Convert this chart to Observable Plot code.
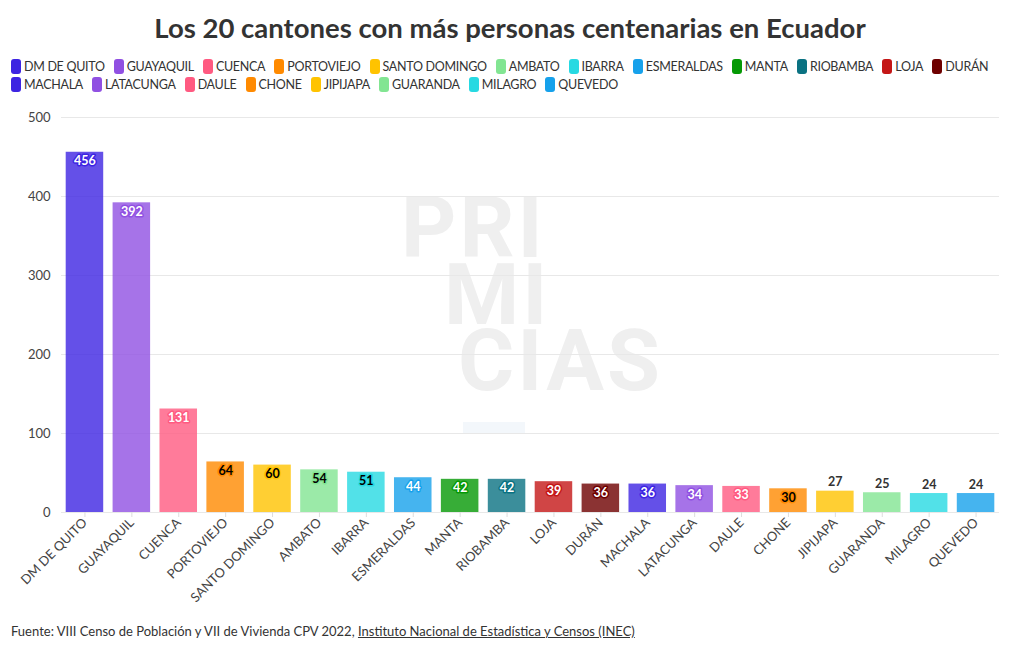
<!DOCTYPE html>
<html>
<head>
<meta charset="utf-8">
<script src="https://cdn.jsdelivr.net/npm/d3@7"></script>
<script src="https://cdn.jsdelivr.net/npm/@observablehq/plot@0.6"></script>
<style>
  html, body { margin: 0; padding: 0; background: #fff; }
  body { width: 1020px; height: 650px; position: relative; overflow: hidden; font-family: Lato, "Open Sans", sans-serif; color: #333; }
  #title { position: absolute; top: 11px; left: 0; width: 1020px; text-align: center; font-size: 27.5px; font-weight: 700; color: #333; }
  #legend { position: absolute; top: 59px; left: 11px; width: 990px; display: flex; flex-wrap: wrap; row-gap: 3px; column-gap: 9px; font-size: 12.5px; letter-spacing: -0.3px; color: #333; }
  .item { display: flex; align-items: center; height: 15px; }
  .sw { width: 10px; height: 15px; border-radius: 3px; margin-right: 3px; }
  #chart { position: absolute; top: 100px; left: 0; }
  #wm { position: absolute; left: 401px; top: 195px; font-family: Roboto, sans-serif; font-weight: 700; font-size: 86px; color: #efefef; line-height: 66.5px; letter-spacing: 3px; white-space: nowrap; }
  #wm .sp { display: inline-block; height: 1px; }
  #wmbar { position: absolute; left: 463px; top: 422px; width: 62px; height: 11px; background: #f3f7fb; }
  #footer { position: absolute; top: 623px; left: 11px; font-size: 13px; color: #333; }
  #footer u { text-decoration: underline; }
</style>
</head>
<body>
<div id="wm">PRI<br><span class="sp" style="width:43px"></span>MI<br><span class="sp" style="width:57px"></span>CIAS</div>
<div id="wmbar"></div>
<div id="title">Los 20 cantones con más personas centenarias en Ecuador</div>
<div id="legend"></div>
<div id="chart"></div>
<div id="footer">Fuente: VIII Censo de Población y VII de Vivienda CPV 2022, <u>Instituto Nacional de Estadística y Censos (INEC)</u></div>
<script>
const cantones = ["DM DE QUITO","GUAYAQUIL","CUENCA","PORTOVIEJO","SANTO DOMINGO","AMBATO","IBARRA","ESMERALDAS","MANTA","RIOBAMBA","LOJA","DURÁN","MACHALA","LATACUNGA","DAULE","CHONE","JIPIJAPA","GUARANDA","MILAGRO","QUEVEDO"];
const centenarios = [456,392,131,64,60,54,51,44,42,42,39,36,36,34,33,30,27,25,24,24];
const palette = ["#3d24e2","#9050e2","#ff5a81","#ff8a00","#ffc300","#82e592","#27d9e2","#16a1eb","#059905","#0a7282","#c41616","#6e0000"];
const darkText = new Set(["#ff8a00","#ffc300","#82e592","#27d9e2"]);
const yTicks = [0,100,200,300,400,500];

const data = cantones.map((c, i) => ({canton: c, value: centenarios[i], color: palette[i % palette.length]}));

// legend
const legend = document.getElementById("legend");
data.forEach(d => {
  const it = document.createElement("div");
  it.className = "item";
  it.innerHTML = `<span class="sw" style="background:${d.color}"></span><span>${d.canton}</span>`;
  legend.appendChild(it);
});

const inside = data.filter(d => d.value >= 29);
const above = data.filter(d => d.value < 29);

const chart = Plot.plot({
  width: 1020,
  height: 510,
  marginTop: 17,
  marginBottom: 98,
  marginLeft: 61,
  marginRight: 21,
  style: {fontFamily: "Lato, 'Open Sans', sans-serif", fontSize: "13px", color: "#444", background: "transparent"},
  x: {domain: cantones, paddingInner: 0.2, paddingOuter: 0.1, round: false, label: null},
  y: {domain: [0, 500], ticks: yTicks, label: null},
  marks: [
    Plot.gridY(yTicks, {stroke: "#e8e8e8", strokeOpacity: 1}),
    Plot.barY(data, {x: "canton", y: "value", fill: "color", fillOpacity: 0.8}),
    Plot.text(inside, {x: "canton", y: "value", text: d => String(d.value), dy: 9,
      fill: d => darkText.has(d.color) ? "#000" : "#fff",
      stroke: "color", strokeWidth: 3, paintOrder: "stroke",
      fontWeight: 700, fontSize: 12.5}),
    Plot.text(above, {x: "canton", y: "value", text: d => String(d.value), dy: -9,
      fill: "#333", fontWeight: 700, fontSize: 12.5}),
    Plot.axisX({tickRotate: -45, tickSize: 5, tickPadding: 3, line: true, stroke: "#dddddd", fill: "#444", fontSize: 13, label: null}),
    Plot.axisY({ticks: yTicks, tickSize: 0, tickPadding: 11, line: true, stroke: "#e8e8e8", fill: "#444", fontSize: 13, label: null})
  ]
});
document.getElementById("chart").appendChild(chart);
</script>
</body>
</html>
